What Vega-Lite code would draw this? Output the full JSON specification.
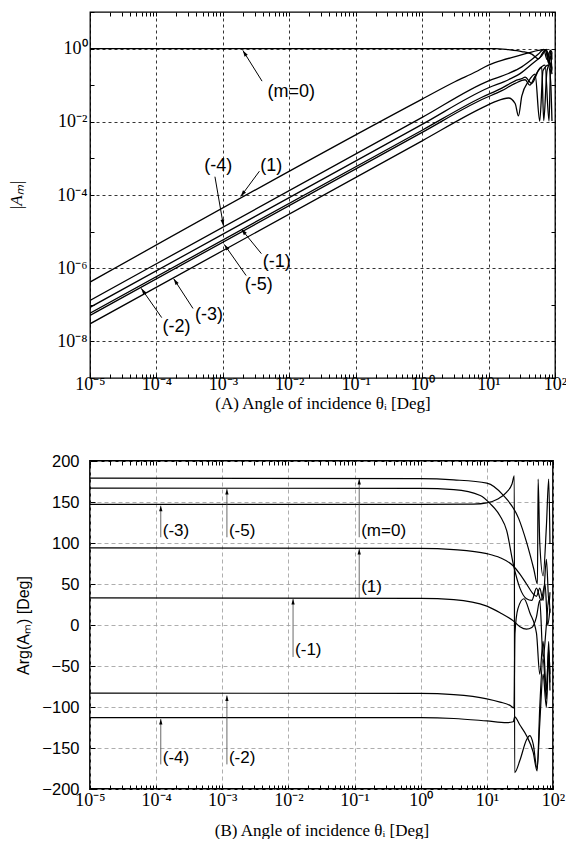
{
 "$schema": "https://vega.github.io/schema/vega-lite/v6.json",
 "background": "white",
 "padding": {"left": 7, "top": 10, "right": 0, "bottom": 0},
 "spacing": 40,
 "config": {
  "view": {"stroke": "black", "strokeWidth": 1.3},
  "axis": {"labelFont": "Liberation Serif", "titleFont": "Liberation Serif", "labelColor": "black", "titleColor": "black", "titleFontWeight": "normal"},
  "text": {"font": "Liberation Sans", "color": "black"}
 },
 "datasets": {
  "top": [
   {"m":"0","t":1e-5,"a":1},{"m":"0","t":12.59,"a":1},{"m":"0","t":19.95,"a":0.933},{"m":"0","t":31.62,"a":0.832},{"m":"0","t":44.67,"a":0.708},{"m":"0","t":56.23,"a":0.525},{"m":"0","t":66.07,"a":0.794},{"m":"0","t":74.13,"a":0.955},{"m":"0","t":81.28,"a":0.398},{"m":"0","t":86.1,"a":0.891},{"m":"0","t":90,"a":0.5},
   {"m":"1","t":1e-5,"a":4.17e-7},{"m":"1","t":1,"a":0.0417},{"m":"1","t":3.162,"a":0.126},{"m":"1","t":6.31,"a":0.229},{"m":"1","t":10,"a":0.355},{"m":"1","t":15.85,"a":0.479},{"m":"1","t":25.12,"a":0.603},{"m":"1","t":39.81,"a":0.759},{"m":"1","t":56.23,"a":0.891},{"m":"1","t":70.79,"a":0.933},{"m":"1","t":79.43,"a":0.708},{"m":"1","t":85.11,"a":0.3},{"m":"1","t":90,"a":0.794},
   {"m":"-4","t":1e-5,"a":1.318e-7},{"m":"-4","t":1,"a":0.0132},{"m":"-4","t":10,"a":0.132},{"m":"-4","t":19.95,"a":0.209},{"m":"-4","t":31.62,"a":0.316},{"m":"-4","t":44.67,"a":0.501},{"m":"-4","t":56.23,"a":0.708},{"m":"-4","t":67.61,"a":0.955},{"m":"-4","t":75.86,"a":0.501},{"m":"-4","t":85.11,"a":0.891},{"m":"-4","t":90,"a":0.794},
   {"m":"-1","t":1e-5,"a":8.51e-8},{"m":"-1","t":1,"a":0.00851},{"m":"-1","t":10,"a":0.0851},{"m":"-1","t":19.95,"a":0.141},{"m":"-1","t":31.62,"a":0.224},{"m":"-1","t":39.81,"a":0.316},{"m":"-1","t":50.12,"a":0.447},{"m":"-1","t":63.1,"a":0.631},{"m":"-1","t":72.44,"a":0.891},{"m":"-1","t":80,"a":0.398},{"m":"-1","t":86,"a":0.631},{"m":"-1","t":90,"a":0.25},
   {"m":"-5","t":1e-5,"a":5.89e-8},{"m":"-5","t":1,"a":0.00589},{"m":"-5","t":7.943,"a":0.0468},{"m":"-5","t":15.85,"a":0.0832},{"m":"-5","t":25.12,"a":0.132},{"m":"-5","t":31.62,"a":0.151},{"m":"-5","t":35.48,"a":0.166},{"m":"-5","t":44.67,"a":0.112},{"m":"-5","t":56.23,"a":0.251},{"m":"-5","t":70.79,"a":0.355},{"m":"-5","t":81.28,"a":0.0105},{"m":"-5","t":86,"a":0.316},{"m":"-5","t":90,"a":0.2},
   {"m":"-2","t":1e-5,"a":5.13e-8},{"m":"-2","t":1,"a":0.00513},{"m":"-2","t":7.943,"a":0.0407},{"m":"-2","t":15.85,"a":0.0708},{"m":"-2","t":25.12,"a":0.112},{"m":"-2","t":35.48,"a":0.141},{"m":"-2","t":41.69,"a":0.1},{"m":"-2","t":50.12,"a":0.178},{"m":"-2","t":63.1,"a":0.316},{"m":"-2","t":67.61,"a":0.0107},{"m":"-2","t":75.86,"a":0.251},{"m":"-2","t":85,"a":0.398},{"m":"-2","t":90,"a":0.282},
   {"m":"-3","t":1e-5,"a":3.02e-8},{"m":"-3","t":1,"a":0.00302},{"m":"-3","t":7.943,"a":0.024},{"m":"-3","t":12.59,"a":0.0355},{"m":"-3","t":19.95,"a":0.0447},{"m":"-3","t":25.12,"a":0.0316},{"m":"-3","t":28.18,"a":0.0145},{"m":"-3","t":31.62,"a":0.05},{"m":"-3","t":39.81,"a":0.126},{"m":"-3","t":50.12,"a":0.2},{"m":"-3","t":58.88,"a":0.0105},{"m":"-3","t":66.07,"a":0.251},{"m":"-3","t":79.43,"a":0.355},{"m":"-3","t":86,"a":0.126},{"m":"-3","t":90,"a":0.0105}
  ],
  "topAnn": [
   {"lab":"(m=0)","tx":0.002,"ty":0.891,"sx":0.00389,"sy":0.129,"lx":0.0107,"ly":0.0646},
   {"lab":"(1)","tx":0.00186,"ty":9.12e-5,"sx":0.00355,"sy":4.47e-4,"lx":0.00537,"ly":6.17e-4},
   {"lab":"(-4)","tx":0.00102,"ty":1.445e-5,"sx":7.6e-4,"sy":3.16e-4,"lx":8.5e-4,"ly":6.17e-4},
   {"lab":"(-1)","tx":0.0019,"ty":1.17e-5,"sx":0.0038,"sy":2.5e-6,"lx":0.00646,"ly":1.45e-6},
   {"lab":"(-5)","tx":0.00105,"ty":4.47e-6,"sx":0.00224,"sy":6.3e-7,"lx":0.00347,"ly":3.39e-7},
   {"lab":"(-2)","tx":5.9e-5,"ty":2.82e-7,"sx":1.2e-4,"sy":4.47e-8,"lx":2.0e-4,"ly":2.51e-8},
   {"lab":"(-3)","tx":1.82e-4,"ty":5.13e-7,"sx":3.55e-4,"sy":7.94e-8,"lx":6.17e-4,"ly":5.25e-8}
  ],
  "bot": [
   {"m":"0","t":1e-5,"p":179},{"m":"0","t":1,"p":178.5},{"m":"0","t":3.162,"p":177},{"m":"0","t":10,"p":173},{"m":"0","t":17.78,"p":158},{"m":"0","t":30.2,"p":130},{"m":"0","t":39.81,"p":101},{"m":"0","t":51.29,"p":68},{"m":"0","t":58.21,"p":50},{"m":"0","t":59.57,"p":178},{"m":"0","t":63.1,"p":100},{"m":"0","t":70.79,"p":60},{"m":"0","t":79.43,"p":120},{"m":"0","t":86.1,"p":178},{"m":"0","t":90,"p":100},
   {"m":"-5","t":1e-5,"p":167},{"m":"-5","t":1,"p":166.5},{"m":"-5","t":3.162,"p":165},{"m":"-5","t":7.943,"p":158},{"m":"-5","t":11.22,"p":148},{"m":"-5","t":15.85,"p":133},{"m":"-5","t":19.95,"p":115},{"m":"-5","t":25.12,"p":74},{"m":"-5","t":31.62,"p":45},{"m":"-5","t":39.81,"p":32},{"m":"-5","t":47.86,"p":30},{"m":"-5","t":56.23,"p":45},{"m":"-5","t":66.07,"p":30},{"m":"-5","t":75.86,"p":50},{"m":"-5","t":83,"p":0},{"m":"-5","t":90,"p":20},
   {"m":"-3","t":1e-5,"p":147},{"m":"-3","t":1,"p":147},{"m":"-3","t":6.31,"p":147.5},{"m":"-3","t":10,"p":149},{"m":"-3","t":14.13,"p":153},{"m":"-3","t":19.95,"p":162},{"m":"-3","t":23.99,"p":172},{"m":"-3","t":26.0,"p":182},{"m":"-3","t":26.3,"p":-180},{"m":"-3","t":31.62,"p":-165},{"m":"-3","t":39.81,"p":-140},{"m":"-3","t":44.67,"p":-135},{"m":"-3","t":50.12,"p":-145},{"m":"-3","t":57.54,"p":-175},{"m":"-3","t":63.1,"p":-120},{"m":"-3","t":70.79,"p":-60},{"m":"-3","t":79.43,"p":-100},{"m":"-3","t":86,"p":-40},{"m":"-3","t":90,"p":-80},
   {"m":"1","t":1e-5,"p":94},{"m":"1","t":1,"p":93.5},{"m":"1","t":3.162,"p":92},{"m":"1","t":10,"p":87},{"m":"1","t":15.85,"p":82},{"m":"1","t":25.12,"p":72},{"m":"1","t":31.62,"p":62},{"m":"1","t":39.81,"p":50},{"m":"1","t":50.12,"p":38},{"m":"1","t":56.23,"p":35},{"m":"1","t":63.1,"p":45},{"m":"1","t":70.79,"p":30},{"m":"1","t":79.43,"p":80},{"m":"1","t":87.1,"p":25},{"m":"1","t":90,"p":40},
   {"m":"-1","t":1e-5,"p":33},{"m":"-1","t":1,"p":32.5},{"m":"-1","t":3.162,"p":31},{"m":"-1","t":10,"p":23},{"m":"-1","t":15.85,"p":15},{"m":"-1","t":25.12,"p":5},{"m":"-1","t":31.62,"p":-2},{"m":"-1","t":39.81,"p":-5},{"m":"-1","t":47.86,"p":-3},{"m":"-1","t":56.23,"p":10},{"m":"-1","t":63.1,"p":30},{"m":"-1","t":70.79,"p":-40},{"m":"-1","t":79.43,"p":0},{"m":"-1","t":87.1,"p":35},{"m":"-1","t":90,"p":15},
   {"m":"-2","t":1e-5,"p":-83},{"m":"-2","t":1,"p":-83.5},{"m":"-2","t":3.162,"p":-85},{"m":"-2","t":10,"p":-90},{"m":"-2","t":15.85,"p":-94},{"m":"-2","t":22.39,"p":-98},{"m":"-2","t":25.7,"p":-101},{"m":"-2","t":26.61,"p":-10},{"m":"-2","t":29.51,"p":20},{"m":"-2","t":36.31,"p":32},{"m":"-2","t":44.67,"p":15},{"m":"-2","t":56.23,"p":-10},{"m":"-2","t":63.1,"p":-60},{"m":"-2","t":70.79,"p":-20},{"m":"-2","t":79.43,"p":-80},{"m":"-2","t":86,"p":-30},{"m":"-2","t":90,"p":-60},
   {"m":"-4","t":1e-5,"p":-113},{"m":"-4","t":1,"p":-113},{"m":"-4","t":3.162,"p":-114},{"m":"-4","t":10,"p":-117},{"m":"-4","t":19.95,"p":-119},{"m":"-4","t":25.12,"p":-118},{"m":"-4","t":26.3,"p":-112},{"m":"-4","t":31.62,"p":-122},{"m":"-4","t":39.81,"p":-135},{"m":"-4","t":50.12,"p":-155},{"m":"-4","t":57.54,"p":-178},{"m":"-4","t":63.1,"p":-100},{"m":"-4","t":70.79,"p":-40},{"m":"-4","t":79.43,"p":-90},{"m":"-4","t":86,"p":-20},{"m":"-4","t":90,"p":-70}
  ],
  "botAnn": [
   {"lab":"(-3)","x":1.175e-4,"tip":145.5,"bot":107,"ly":115},
   {"lab":"(-5)","x":1.175e-3,"tip":166,"bot":107,"ly":115},
   {"lab":"(m=0)","x":0.1175,"tip":178,"bot":107,"ly":115},
   {"lab":"(1)","x":0.1175,"tip":92.7,"bot":33,"ly":46},
   {"lab":"(-1)","x":0.01175,"tip":31.7,"bot":-39,"ly":-31},
   {"lab":"(-4)","x":1.175e-4,"tip":-114.5,"bot":-170,"ly":-162},
   {"lab":"(-2)","x":1.175e-3,"tip":-86,"bot":-170,"ly":-162}
  ]
 },
 "vconcat": [
  {
   "width": 465,
   "height": 366,
   "view": {"stroke": "black", "strokeWidth": 1.3},
   "resolve": {"axis": {"x": "independent", "y": "independent"}},
   "layer": [
    {
     "data": {"name": "top"},
     "mark": {"type": "line", "interpolate": "monotone", "color": "black", "strokeWidth": 1.3, "clip": true},
     "encoding": {
      "x": {"field": "t", "type": "quantitative", "scale": {"type": "log", "domain": [1e-5, 100], "nice": false},
       "axis": {"orient": "bottom", "values": [1e-5,1e-4,0.001,0.01,0.1,1,10,100],
        "labelExpr": "datum.value < 5e-5 ? '10⁻⁵' : datum.value < 5e-4 ? '10⁻⁴' : datum.value < 5e-3 ? '10⁻³' : datum.value < 5e-2 ? '10⁻²' : datum.value < 0.5 ? '10⁻¹' : datum.value < 5 ? '10⁰' : datum.value < 50 ? '10¹' : '10²'",
        "labelFontSize": 18, "labelPadding": -3, "labelFlush": false, "labelOverlap": false, "labelBound": false,
        "ticks": false, "domain": false, "grid": true, "gridColor": "black", "gridDash": [3, 3], "gridOpacity": 1, "gridWidth": 0.8,
        "title": "(A) Angle of incidence θᵢ [Deg]", "titleFontSize": 17, "titlePadding": 2}},
      "y": {"field": "a", "type": "quantitative", "scale": {"type": "log", "domain": [1e-9, 10], "nice": false},
       "axis": {"orient": "left", "values": [1e-8,1e-6,1e-4,0.01,1],
        "labelExpr": "datum.value < 5e-8 ? '10⁻⁸' : datum.value < 5e-6 ? '10⁻⁶' : datum.value < 5e-4 ? '10⁻⁴' : datum.value < 5e-2 ? '10⁻²' : '10⁰'",
        "labelFontSize": 18, "labelPadding": 3, "labelOverlap": false,
        "ticks": false, "domain": false, "grid": true, "gridColor": "black", "gridDash": [3, 3], "gridOpacity": 1, "gridWidth": 0.8,
        "title": "|Aₘ|", "titleFontSize": 17, "titleFontStyle": "italic", "titlePadding": 31}},
      "detail": {"field": "m"}
     }
    },
    {
     "data": {"name": "topAnn"},
     "mark": {"type": "rule", "color": "black", "strokeWidth": 1},
     "encoding": {
      "x": {"field": "sx", "type": "quantitative",
       "axis": {"orient": "bottom", "values": [1e-5,2e-5,3e-5,4e-5,5e-5,6e-5,7e-5,8e-5,9e-5,1e-4,2e-4,3e-4,4e-4,5e-4,6e-4,7e-4,8e-4,9e-4,0.001,0.002,0.003,0.004,0.005,0.006,0.007,0.008,0.009,0.01,0.02,0.03,0.04,0.05,0.06,0.07,0.08,0.09,0.1,0.2,0.3,0.4,0.5,0.6,0.7,0.8,0.9,1,2,3,4,5,6,7,8,9,10,20,30,40,50,60,70,80,90,100],
        "tickSize": -4, "tickColor": "black", "tickWidth": 1, "labels": false, "grid": false, "domain": false, "title": null}},
      "x2": {"field": "tx"},
      "y": {"field": "sy", "type": "quantitative",
       "axis": {"orient": "left", "values": [1e-9,1e-8,1e-7,1e-6,1e-5,1e-4,0.001,0.01,0.1,1,10],
        "tickSize": -4, "tickColor": "black", "tickWidth": 1, "labels": false, "grid": false, "domain": false, "title": null}},
      "y2": {"field": "ty"}
     }
    },
    {
     "data": {"name": "topAnn"},
     "mark": {"type": "text", "fontSize": 18, "font": "Liberation Sans", "align": "center", "baseline": "middle"},
     "encoding": {
      "x": {"field": "lx", "type": "quantitative",
       "axis": {"orient": "top", "values": [1e-5,2e-5,3e-5,4e-5,5e-5,6e-5,7e-5,8e-5,9e-5,1e-4,2e-4,3e-4,4e-4,5e-4,6e-4,7e-4,8e-4,9e-4,0.001,0.002,0.003,0.004,0.005,0.006,0.007,0.008,0.009,0.01,0.02,0.03,0.04,0.05,0.06,0.07,0.08,0.09,0.1,0.2,0.3,0.4,0.5,0.6,0.7,0.8,0.9,1,2,3,4,5,6,7,8,9,10,20,30,40,50,60,70,80,90,100],
        "tickSize": -4, "tickColor": "black", "tickWidth": 1, "labels": false, "grid": false, "domain": false, "title": null}},
      "y": {"field": "ly", "type": "quantitative",
       "axis": {"orient": "right", "values": [1e-9,1e-8,1e-7,1e-6,1e-5,1e-4,0.001,0.01,0.1,1,10],
        "tickSize": -4, "tickColor": "black", "tickWidth": 1, "labels": false, "grid": false, "domain": false, "title": null}},
      "text": {"field": "lab"}
     }
    },
    {
     "data": {"name": "topAnn"},
     "transform": [
      {"calculate": "atan2((log(datum.tx) - log(datum.sx)) / LN10 * 66.4, (log(datum.ty) - log(datum.sy)) / LN10 * 36.6) * 180 / PI", "as": "ang"}
     ],
     "mark": {"type": "point", "shape": "M0,0L-0.45,1.5L0.45,1.5Z", "filled": true, "color": "black", "opacity": 1, "size": 70},
     "encoding": {
      "x": {"field": "tx", "type": "quantitative", "axis": null},
      "y": {"field": "ty", "type": "quantitative", "axis": null},
      "angle": {"field": "ang", "type": "quantitative", "scale": null}
     }
    },
    {
     "mark": {"type": "text", "text": "Triangle, L=2.1λ, α=π/3", "fontSize": 20, "font": "Liberation Sans", "align": "left", "baseline": "middle"},
     "encoding": {
      "x": {"datum": 2.3e-5, "type": "quantitative", "axis": null},
      "y": {"datum": 4.68, "type": "quantitative", "axis": null}
     }
    }
   ]
  },
  {
   "width": 463,
   "height": 328,
   "view": {"stroke": "black", "strokeWidth": 1.8},
   "resolve": {"axis": {"x": "independent", "y": "independent"}},
   "layer": [
    {
     "data": {"name": "bot"},
     "mark": {"type": "line", "interpolate": "monotone", "color": "black", "strokeWidth": 1.2, "clip": true},
     "encoding": {
      "x": {"field": "t", "type": "quantitative", "scale": {"type": "log", "domain": [1e-5, 100], "nice": false},
       "axis": {"orient": "bottom", "values": [1e-5,1e-4,0.001,0.01,0.1,1,10,100],
        "labelExpr": "datum.value < 5e-5 ? '10⁻⁵' : datum.value < 5e-4 ? '10⁻⁴' : datum.value < 5e-3 ? '10⁻³' : datum.value < 5e-2 ? '10⁻²' : datum.value < 0.5 ? '10⁻¹' : datum.value < 5 ? '10⁰' : datum.value < 50 ? '10¹' : '10²'",
        "labelFontSize": 18, "labelPadding": 2, "labelFlush": false, "labelOverlap": false, "labelBound": false,
        "ticks": false, "domain": false, "grid": true, "gridColor": "#999999", "gridDash": [4, 3], "gridOpacity": 1, "gridWidth": 0.8,
        "title": "(B) Angle of incidence θᵢ [Deg]", "titleFontSize": 17, "titlePadding": 13}},
      "y": {"field": "p", "type": "quantitative", "scale": {"domain": [-200, 200], "nice": false},
       "axis": {"orient": "left", "values": [-200,-150,-100,-50,0,50,100,150,200],
        "labelFont": "Liberation Sans", "labelFontSize": 16.5, "labelPadding": 11, "labelOverlap": false,
        "ticks": false, "domain": false, "grid": true, "gridColor": "#999999", "gridDash": [4, 3], "gridOpacity": 1, "gridWidth": 0.8,
        "title": "Arg(Aₘ) [Deg]", "titleFont": "Liberation Sans", "titleFontSize": 16, "titlePadding": 10}},
      "detail": {"field": "m"}
     }
    },
    {
     "data": {"name": "botAnn"},
     "mark": {"type": "rule", "color": "#444444", "strokeWidth": 0.8},
     "encoding": {
      "x": {"field": "x", "type": "quantitative",
       "axis": {"orient": "bottom", "values": [1e-5,2e-5,3e-5,4e-5,5e-5,6e-5,7e-5,8e-5,9e-5,1e-4,2e-4,3e-4,4e-4,5e-4,6e-4,7e-4,8e-4,9e-4,0.001,0.002,0.003,0.004,0.005,0.006,0.007,0.008,0.009,0.01,0.02,0.03,0.04,0.05,0.06,0.07,0.08,0.09,0.1,0.2,0.3,0.4,0.5,0.6,0.7,0.8,0.9,1,2,3,4,5,6,7,8,9,10,20,30,40,50,60,70,80,90,100],
        "tickSize": -4, "tickColor": "black", "tickWidth": 1, "labels": false, "grid": false, "domain": false, "title": null}},
      "y": {"field": "bot", "type": "quantitative",
       "axis": {"orient": "left", "values": [-200,-150,-100,-50,0,50,100,150,200],
        "tickSize": -5, "tickColor": "black", "tickWidth": 1, "labels": false, "grid": false, "domain": false, "title": null}},
      "y2": {"field": "tip"}
     }
    },
    {
     "data": {"name": "botAnn"},
     "mark": {"type": "text", "fontSize": 17, "font": "Liberation Sans", "align": "left", "baseline": "middle", "dx": 2},
     "encoding": {
      "x": {"field": "x", "type": "quantitative",
       "axis": {"orient": "top", "values": [1e-5,2e-5,3e-5,4e-5,5e-5,6e-5,7e-5,8e-5,9e-5,1e-4,2e-4,3e-4,4e-4,5e-4,6e-4,7e-4,8e-4,9e-4,0.001,0.002,0.003,0.004,0.005,0.006,0.007,0.008,0.009,0.01,0.02,0.03,0.04,0.05,0.06,0.07,0.08,0.09,0.1,0.2,0.3,0.4,0.5,0.6,0.7,0.8,0.9,1,2,3,4,5,6,7,8,9,10,20,30,40,50,60,70,80,90,100],
        "tickSize": -4, "tickColor": "black", "tickWidth": 1, "labels": false, "grid": false, "domain": false, "title": null}},
      "y": {"field": "ly", "type": "quantitative",
       "axis": {"orient": "right", "values": [-200,-150,-100,-50,0,50,100,150,200],
        "tickSize": -5, "tickColor": "black", "tickWidth": 1, "labels": false, "grid": false, "domain": false, "title": null}},
      "text": {"field": "lab"}
     }
    },
    {
     "data": {"name": "botAnn"},
     "mark": {"type": "point", "shape": "M0,0L-0.45,1.5L0.45,1.5Z", "filled": true, "color": "black", "opacity": 1, "size": 55},
     "encoding": {
      "x": {"field": "x", "type": "quantitative", "axis": null},
      "y": {"field": "tip", "type": "quantitative", "axis": null}
     }
    }
   ]
  }
 ]
}
